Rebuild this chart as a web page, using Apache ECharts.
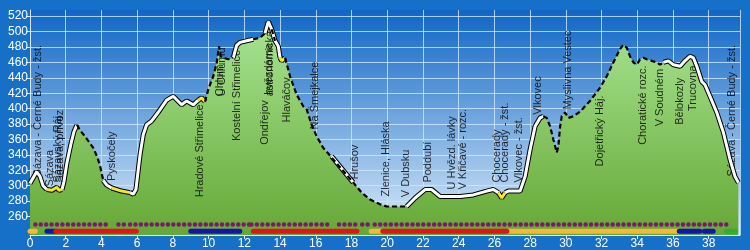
<!DOCTYPE html>
<html><head><meta charset="utf-8">
<script src="https://cdn.jsdelivr.net/npm/echarts@6/dist/echarts.min.js"></script>
<style>html,body{margin:0;padding:0;background:#1670c8}#c{width:750px;height:250px}</style>
</head><body><div id="c"></div>
<script>
// ---- data ----
const profileKm = [0,0.375,0.56,0.73,0.94,1.23,1.5,1.62,1.79,1.9,2.07,2.3,2.46,2.63,2.8,3.08,3.54,3.75,3.92,4.1,4.29,4.57,5.13,5.6,5.78,5.93,6.16,6.34,6.53,6.81,7.17,7.65,8.02,8.49,8.77,9.14,9.42,9.61,9.8,9.98,10.26,10.45,10.58,10.68,10.82,11.1,11.38,11.57,11.76,12.13,12.5,12.88,13.16,13.34,13.53,13.72,13.9,14.0,14.09,14.28,14.56,14.93,15.3,15.49,15.77,16.05,16.42,16.8,16.89,18.1,18.57,19.04,19.6,19.97,20.72,21.09,21.56,22.12,22.49,22.96,24.08,24.82,25.57,25.94,26.22,26.41,26.6,26.78,27.44,27.72,28.0,28.28,28.56,28.74,28.93,29.12,29.3,29.49,29.58,29.68,29.77,29.96,30.14,30.42,30.79,31.35,31.91,32.29,32.66,33.03,33.22,33.41,33.59,33.78,33.97,34.15,34.34,34.53,34.81,35.09,35.27,35.46,35.74,36.02,36.4,36.67,36.95,37.14,37.33,37.61,37.79,38.07,38.45,38.82,39.19,39.47,39.66];
const profileElev = [303,318,312,300,295,294,298,294,295,305,330,355,370,379,372,364,349,338,326,307,301,297,293,291,289,295,340,366,379,384,395,411,416,405,410,405,411,414,409,425,442,459,481,468,466,464,466,482,486,488,490,492,498,513,503,488,481,466,462,466,442,418,403,399,379,364,349,339,338,304,291,282,276,273,273,273,284,295,295,286,286,288,293,295,291,284,291,293,293,312,347,377,388,390,388,377,360,343,351,377,390,395,388,390,396,410,427,442,460,477,483,479,468,460,457,464,466,464,462,460,457,460,462,457,455,462,468,466,455,435,431,416,395,369,334,312,304];
// surface of the section starting at each point: W = road, Y = yellow road, D = path
const profileSurface = ['W','W','W','W','Y','Y','Y','Y','W','W','W','W','W','D','D','D','D','D','D','W','W','Y','Y','W','W','W','W','W','W','W','W','W','W','W','W','W','Y','Y','D','D','D','D','D','D','D','D','W','W','W','W','D','D','W','W','D','W','W','Y','Y','D','D','D','D','D','D','D','D','D','W','D','D','D','D','D','D','W','W','W','W','W','W','W','W','W','Y','Y','W','W','W','W','W','W','W','D','D','D','D','D','D','D','D','D','D','D','D','D','D','D','D','D','D','D','D','D','D','D','D','D','D','D','D','W','W','W','W','W','W','W','W','W','W','W','W','W','W','W','W','W','W'];
const waypointNames = ['Sázava - Černé Budy - žst.','Sázava','Sázavský Ráj','Sázava, přívoz','Pyskočely','Hradové Střimelice','Chlum','U Chlumu','Kostelní Střimelice','Ondřejov','hvězdárna','astronomická','Hlaváčov','Na Šmejkalce','Hrušov','Zlenice, Hláska','V Dubsku','Poddubí','U Hvězd. lávky','V Křičavé - rozc.','Chocerady','Chocerady - žst.','Vlkovec - žst.','Vlkovec','Myslivna Vestec','Dojetřický Háj.','Choratické rozc.','V Soudném','Bělokozly','Trucovna','Sázava - Černé Budy - žst.'];
const waypointKm = [0.47,1.12,1.55,1.65,4.57,9.52,10.64,10.75,11.57,13.16,13.36,13.42,14.37,15.96,18.2,19.93,21.05,22.3,23.61,24.26,26.13,26.6,27.4,28.46,30.14,31.9,34.34,35.27,36.39,37.14,39.29];
const waypointLabelElev = [312,299,304,304,306,285,416,416,358,353,418,416,382,373,308,286,285,304,295,295,304,304,304,392,399,325,353,377,379,397,312];
const yTicks = [260,280,300,320,340,360,380,400,420,440,460,480,500,520];
const purpleSegments = [[0.3,4.5],[4.95,5.35],[5.6,12.3],[12.4,16.9],[17.3,18.4],[18.6,19.0],[19.3,19.7],[19.9,39.0]];
const barOrange = [[0,0.3],[19.1,19.7],[26.7,36.3]];
const barBlue = [[0.95,1.45],[9.0,11.75],[36.35,37.5],[37.75,38.25]];
const barRed = [[1.45,5.95],[12.5,18.3],[19.75,26.7]];
const barGreen = [[39.0,39.5]];
const barYellow = [[39.68,39.7]];

// ---- build ----
const profile = profileKm.map((k, i) => [k, profileElev[i]]);
function surfaceData(t) {
  return profileKm.map((k, i) => {
    const on = profileSurface[i] === t || (i > 0 && profileSurface[i - 1] === t);
    return on ? [k, profileElev[i]] : [k, '-'];
  });
}
function segData(segs, level) {
  const d = [];
  segs.forEach(s => { d.push([s[0], level], [s[1], level], [(s[1] + 0.001), '-']); });
  return d;
}
const PURPLE_ROW = 249.5, BAR_ROW = 240.8;
const FONT = 'Liberation Sans, Arial, sans-serif';
const lineBase = { type: 'line', symbol: 'none', silent: true, animation: false, connectNulls: false };
const series = [
  Object.assign({}, lineBase, {
    data: profile, z: 1, lineStyle: { width: 0 },
    areaStyle: { opacity: 1, color: new echarts.graphic.LinearGradient(0, 0, 0, 1, [
      { offset: 0, color: '#a8e492' }, { offset: 1, color: '#66a836' }]) }
  }),
  {
    type: 'scatter', z: 2, silent: true, animation: false, symbolSize: 1,
    itemStyle: { color: 'rgba(0,0,0,0)' },
    data: waypointKm.map((k, i) => ({ name: waypointNames[i], value: [k, waypointLabelElev[i]] })),
    label: { show: true, position: 'inside', rotate: 90, align: 'left', verticalAlign: 'middle',
      formatter: p => p.name, color: '#000', fontSize: 11, fontFamily: FONT }
  },
  Object.assign({}, lineBase, { data: surfaceData('W'), z: 3, lineStyle: { width: 5, color: '#000' } }),
  Object.assign({}, lineBase, { data: surfaceData('Y'), z: 3, lineStyle: { width: 5, color: '#000' } }),
  Object.assign({}, lineBase, { data: surfaceData('W'), z: 4, lineStyle: { width: 3, color: '#fff' } }),
  Object.assign({}, lineBase, { data: surfaceData('Y'), z: 4, lineStyle: { width: 3, color: '#f4e43a' } }),
  Object.assign({}, lineBase, { data: surfaceData('D'), z: 4, lineStyle: { width: 2.2, color: '#000', type: [5, 3] } }),
  Object.assign({}, lineBase, { data: segData(purpleSegments, PURPLE_ROW), z: 3, lineStyle: { width: 4.5, color: '#7a1a6a', type: [0.01, 5.4], cap: 'round' } }),
  Object.assign({}, lineBase, { data: segData(barOrange, BAR_ROW), z: 3, lineStyle: { width: 5, color: '#f2b83a', cap: 'round' } }),
  Object.assign({}, lineBase, { data: segData(barBlue, BAR_ROW), z: 3, lineStyle: { width: 5, color: '#1414b4', cap: 'round' } }),
  Object.assign({}, lineBase, { data: segData(barRed, BAR_ROW), z: 3, lineStyle: { width: 5, color: '#e41414', cap: 'round' } }),
  Object.assign({}, lineBase, { data: segData(barGreen, BAR_ROW), z: 3, lineStyle: { width: 5, color: '#2cb02c', cap: 'round' } }),
  Object.assign({}, lineBase, { data: segData(barYellow, BAR_ROW), z: 3, lineStyle: { width: 6, color: '#f4d040', cap: 'round' } })
];

const chart = echarts.init(document.getElementById('c'), null, { renderer: 'canvas' });
chart.setOption({
  backgroundColor: '#1670c8',
  animation: false,
  grid: { left: 30, right: 10, top: 10, bottom: 15, show: true, borderWidth: 0,
    backgroundColor: new echarts.graphic.LinearGradient(0, 0, 0, 1, [
      { offset: 0, color: '#0f66c6' }, { offset: 1, color: '#dcecfa' }]) },
  xAxis: {
    type: 'value', min: 0, max: 39.75, interval: 2,
    axisLine: { show: true, lineStyle: { color: '#d8e8f8', width: 1 } },
    axisTick: { show: true, length: 4, lineStyle: { color: '#d8e8f8' } },
    axisLabel: { color: '#fff', fontSize: 12, fontFamily: FONT, margin: 3, showMaxLabel: false },
    splitLine: { show: true, lineStyle: { color: 'rgba(205,232,255,0.8)', width: 1 } }
  },
  yAxis: {
    type: 'value', min: 236, max: 528,
    axisLine: { show: true, lineStyle: { color: '#d8e8f8', width: 1 } },
    axisTick: { show: true, length: 4, customValues: yTicks, lineStyle: { color: '#d8e8f8' } },
    axisLabel: { color: '#fff', fontSize: 12, fontFamily: FONT, margin: 2, customValues: yTicks },
    splitLine: { show: true, lineStyle: { color: 'rgba(205,232,255,0.8)', width: 1 } }
  },
  series: series
});
</script>
</body></html>
